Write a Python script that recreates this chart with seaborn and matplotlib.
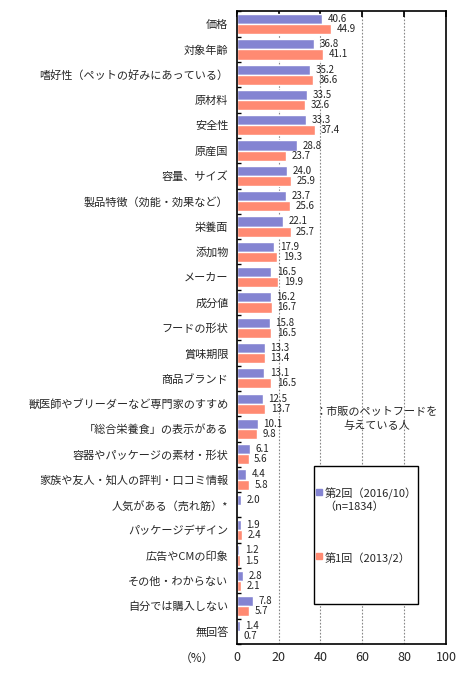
import numpy as np
import pandas as pd
import seaborn as sns
import matplotlib
matplotlib.use("Agg")
import matplotlib.pyplot as plt
from matplotlib.lines import Line2D
from matplotlib.patches import Rectangle


# ----------------------------------------
# data
# ----------------------------------------

categories = [
    "価格",
    "対象年齢",
    "嗜好性（ペットの好みにあっている）",
    "原材料",
    "安全性",
    "原産国",
    "容量、サイズ",
    "製品特徴（効能・効果など）",
    "栄養面",
    "添加物",
    "メーカー",
    "成分値",
    "フードの形状",
    "賞味期限",
    "商品ブランド",
    "獣医師やブリーダーなど専門家のすすめ",
    "「総合栄養食」の表示がある",
    "容器やパッケージの素材・形状",
    "家族や友人・知人の評判・口コミ情報",
    "人気がある（売れ筋）*",
    "パッケージデザイン",
    "広告やCMの印象",
    "その他・わからない",
    "自分では購入しない",
    "無回答",
]
round2_2016 = [40.6, 36.8, 35.2, 33.5, 33.3, 28.8, 24.0, 23.7, 22.1, 17.9, 16.5, 16.2, 15.8,
               13.3, 13.1, 12.5, 10.1, 6.1, 4.4, 2.0, 1.9, 1.2, 2.8, 7.8, 1.4]
round1_2013 = [44.9, 41.1, 36.6, 32.6, 37.4, 23.7, 25.9, 25.6, 25.7, 19.3, 19.9, 16.7, 16.5,
               13.4, 16.5, 13.7, 9.8, 5.6, 5.8, np.nan, 2.4, 1.5, 2.1, 5.7, 0.7]
series_names = ["第2回（2016/10）\n（n=1834）", "第1回（2013/2）"]
x_ticks = [0, 20, 40, 60, 80, 100]

n = len(categories)
df = pd.DataFrame({
    "item": categories * 2,
    "value": round2_2016 + round1_2013,
    "series": [series_names[0]] * n + [series_names[1]] * n,
})

BLUE = "#8484d2"
SALMON = "#ff8a72"

# ----------------------------------------
# plot
# ----------------------------------------

sns.set_theme(style="white")
plt.rcParams["font.family"] = ["Noto Sans CJK JP", "DejaVu Sans"]

fig = plt.figure(figsize=(4.68, 6.74), dpi=100)
ax = fig.add_axes([0.506, 0.0445, 0.447, 0.9385])

sns.barplot(data=df, y="item", x="value", hue="series", orient="h",
            palette=[BLUE, SALMON], saturation=1, width=0.8,
            legend=False, ax=ax)

# value labels next to each bar
for cont in ax.containers:
    ax.bar_label(cont, fmt="%.1f", padding=4, fontsize=7, color="#222222")

ax.set_xlim(0, 100)
ax.set_xticks(x_ticks)
ax.set_xlabel("")
ax.set_ylabel("")
ax.tick_params(axis="x", which="major", labelsize=9, bottom=False, top=True,
               direction="in", length=4, color="black", pad=5)
ax.tick_params(axis="y", which="major", labelsize=8, length=0, pad=6)
ax.set_yticks(np.arange(-0.5, n, 1.0), minor=True)
ax.tick_params(axis="y", which="minor", left=True, direction="in", length=3, color="black")

for x in x_ticks[1:-1]:
    ax.axvline(x, color="#888888", linestyle=(0, (1.5, 1.5)), linewidth=0.8, zorder=0)

for sp in ax.spines.values():
    sp.set_color("black")
    sp.set_linewidth(1.2)

ax.text(67, 15.6, "：市販のペットフードを\n与えている人", ha="center", va="center",
        fontsize=8, linespacing=1.5)

# legend box
ax.add_patch(Rectangle((0.368, 0.063), 0.498, 0.218, transform=ax.transAxes,
                       facecolor="white", edgecolor="black", linewidth=1.0, zorder=3))
handles = [Line2D([], [], marker="s", linestyle="", markersize=4, color=c)
           for c in [BLUE, SALMON]]
leg = ax.legend(handles, series_names, loc="upper left", bbox_to_anchor=(0.375, 0.247),
                fontsize=8, frameon=False, borderpad=0, labelspacing=3.6,
                handlelength=0.6, handletextpad=0.25, borderaxespad=0)
leg.set_zorder(4)
for t in leg.get_texts():
    t.set_multialignment("left")
# marker next to the first line of each label
for col in leg._legend_handle_box.get_children():
    for item in col.get_children():
        item.align = "top"

fig.text(197 / 468, 1 - 658 / 674, "（%）", ha="center", va="center", fontsize=8.5)

fig.savefig("out.png", dpi=100, facecolor="white")
